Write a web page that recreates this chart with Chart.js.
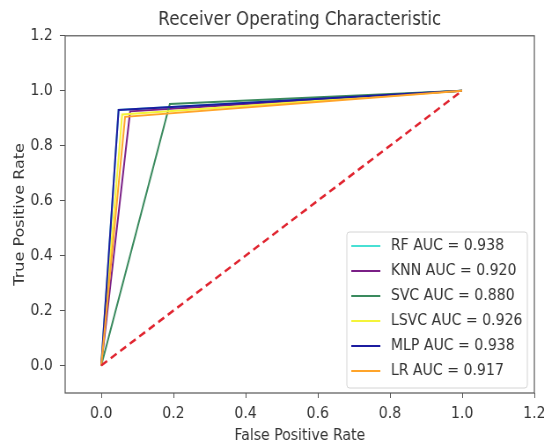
<!DOCTYPE html>
<html>
<head>
<meta charset="utf-8">
<script src="https://cdn.jsdelivr.net/npm/chart.js@4/dist/chart.umd.min.js"></script>
<style>
  html, body { margin: 0; background: #fff; overflow: hidden; }
  /* the reference figure is squeezed horizontally, so draw wider and squeeze */
  #wrap { width: 618px; height: 445px; transform: scaleX(0.8803); transform-origin: 0 0; }
  #roc { display: block; }
</style>
</head>
<body>
<div id="wrap"><canvas id="roc" width="618" height="445"></canvas></div>
<script>
// ROC points (false positive rate / true positive rate) per model
const modelNames = ["RF", "KNN", "SVC", "LSVC", "MLP", "LR"];
const aucValues = [0.938, 0.920, 0.880, 0.926, 0.938, 0.917];
const fprRF = [0, 0.048, 1];
const tprRF = [0, 0.93, 1];
const fprKNN = [0, 0.08, 1];
const tprKNN = [0, 0.925, 1];
const fprSVC = [0, 0.19, 1];
const tprSVC = [0, 0.952, 1];
const fprLSVC = [0, 0.058, 1];
const tprLSVC = [0, 0.914, 1];
const fprMLP = [0, 0.048, 1];
const tprMLP = [0, 0.93, 1];
const fprLR = [0, 0.066, 1];
const tprLR = [0, 0.905, 1];
const chanceLine = [0, 1];
const axisTicks = [0, 0.2, 0.4, 0.6, 0.8, 1.0, 1.2];

const colors = ["#48e0d4", "#7a1f86", "#3a8a5e", "#f4f43a", "#1c1ca0", "#ffa42a"];
const fprs = [fprRF, fprKNN, fprSVC, fprLSVC, fprMLP, fprLR];
const tprs = [tprRF, tprKNN, tprSVC, tprLSVC, tprMLP, tprLR];
const FONT = "'DejaVu Sans'";

function toPoints(xs, ys) {
  return xs.map((x, i) => ({ x: x, y: ys[i] }));
}

// later models are drawn on top, like matplotlib does
const datasets = modelNames.map((name, i) => ({
  label: `${name} AUC = ${aucValues[i].toFixed(3)}`,
  data: toPoints(fprs[i], tprs[i]),
  borderColor: colors[i],
  borderWidth: 2,
  pointRadius: 0,
  tension: 0,
  fill: false,
  order: modelNames.length - i
}));

datasets.push({
  label: "",
  data: toPoints(chanceLine, chanceLine),
  borderColor: "#e02530",
  borderWidth: 2.5,
  borderDash: [8, 5],
  pointRadius: 0,
  fill: false,
  order: 0
});

// matplotlib-style frame + legend inside the lower right corner
const frameAndLegend = {
  id: "frameAndLegend",
  afterDatasetsDraw(chart) {
    const ctx = chart.ctx;
    const a = chart.chartArea;
    ctx.save();
    ctx.strokeStyle = "#555";
    ctx.lineWidth = 1.2;
    ctx.strokeRect(a.left, a.top, a.right - a.left, a.bottom - a.top);

    const items = chart.data.datasets.filter(d => d.label);
    const rowH = 25;
    const boxW = 205;
    const boxH = items.length * rowH + 6;
    const x0 = a.right - 8 - boxW;
    const y0 = a.bottom - 5 - boxH;
    ctx.fillStyle = "rgba(255,255,255,0.9)";
    ctx.strokeStyle = "#d4d4d4";
    ctx.lineWidth = 1;
    ctx.beginPath();
    ctx.roundRect(x0, y0, boxW, boxH, 3);
    ctx.fill();
    ctx.stroke();

    ctx.font = `16px ${FONT}`;
    ctx.textBaseline = "middle";
    items.forEach((d, i) => {
      const y = y0 + 14 + i * rowH;
      ctx.strokeStyle = d.borderColor;
      ctx.lineWidth = 2;
      ctx.beginPath();
      ctx.moveTo(x0 + 5, y);
      ctx.lineTo(x0 + 38, y);
      ctx.stroke();
      ctx.fillStyle = "#333";
      ctx.fillText(d.label, x0 + 50, y);
    });
    ctx.restore();
  }
};

function setTicks(scale) {
  scale.ticks = axisTicks.map(v => ({ value: v }));
}

new Chart(document.getElementById("roc"), {
  type: "line",
  data: { datasets },
  plugins: [frameAndLegend],
  options: {
    responsive: false,
    animation: false,
    layout: { padding: { top: 0, right: 11, left: 0, bottom: 0 } },
    plugins: {
      legend: { display: false },
      tooltip: { enabled: false },
      title: {
        display: true,
        text: "Receiver Operating Characteristic",
        fullSize: false,
        color: "#333",
        font: { family: FONT, size: 19, weight: "normal" },
        padding: { top: 9, bottom: 4 }
      }
    },
    scales: {
      x: {
        type: "linear",
        min: -0.1,
        max: 1.2,
        afterBuildTicks: setTicks,
        afterFit(scale) {
          scale.height = 52;
          scale.paddingRight = 0;
        },
        grid: { drawOnChartArea: false, drawTicks: true, tickLength: 5, color: "#555" },
        border: { display: false },
        ticks: {
          color: "#333",
          padding: 6,
          maxRotation: 0,
          font: { family: FONT, size: 16 },
          callback: v => v.toFixed(1)
        },
        title: {
          display: true,
          text: "False Positive Rate",
          color: "#333",
          font: { family: FONT, size: 16 },
          padding: { top: 2, bottom: 0 }
        }
      },
      y: {
        type: "linear",
        min: -0.1,
        max: 1.2,
        afterBuildTicks: setTicks,
        afterFit(scale) {
          scale.width = 74;
        },
        grid: { drawOnChartArea: false, drawTicks: true, tickLength: 6, color: "#555" },
        border: { display: false },
        ticks: {
          color: "#333",
          padding: 8,
          font: { family: FONT, size: 16 },
          callback: v => v.toFixed(1)
        },
        title: {
          display: true,
          text: "True Positive Rate",
          color: "#333",
          font: { family: FONT, size: 16 },
          padding: { top: 13, bottom: 0 }
        }
      }
    }
  }
});
</script>
</body>
</html>
